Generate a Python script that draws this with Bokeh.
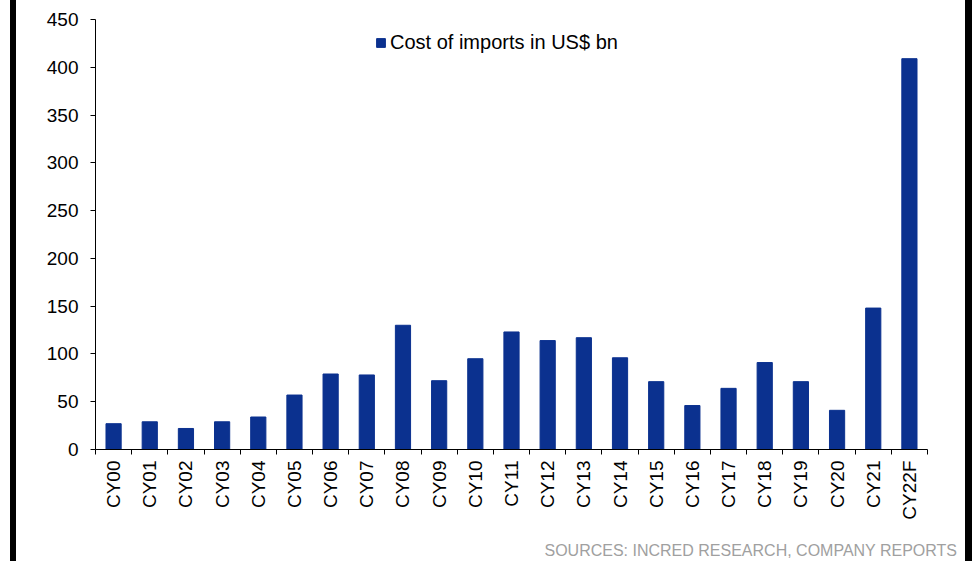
import math
from bokeh.plotting import figure
from bokeh.models import (ColumnDataSource, Range1d, FixedTicker, Legend, LegendItem,
                          Div, Spacer)
from bokeh.layouts import row, column
from bokeh.embed import file_html
from bokeh.resources import INLINE

years = ["CY00", "CY01", "CY02", "CY03", "CY04", "CY05", "CY06", "CY07", "CY08", "CY09",
         "CY10", "CY11", "CY12", "CY13", "CY14", "CY15", "CY16", "CY17", "CY18", "CY19",
         "CY20", "CY21", "CY22F"]
import_cost = [27, 29, 22, 29, 34, 57, 79, 78, 130, 72,
               95, 123, 114, 117, 96, 71, 46, 64, 91, 71,
               41, 148, 409]
y_ticks = [0, 50, 100, 150, 200, 250, 300, 350, 400, 450]
series_name = "Cost of imports in US$ bn"
source_note = "SOURCES: INCRED RESEARCH, COMPANY REPORTS"

FONT = "Liberation Sans"
BAR = "#0B318F"

positions = list(range(len(years)))
src = ColumnDataSource(dict(x=positions, y=import_cost, name=years))

p = figure(width=949, height=540, output_backend="svg", toolbar_location=None,
           x_range=Range1d(-0.5, len(years) - 0.5), y_range=Range1d(0, 450),
           min_border_left=79, min_border_right=38, min_border_top=19, min_border_bottom=91,
           margin=0)
p.outline_line_color = None
p.xgrid.visible = False
p.ygrid.visible = False
p.background_fill_color = "white"
p.border_fill_color = "white"

r = p.vbar(x="x", top="y", width=0.42, source=src, fill_color=BAR, line_color=BAR)

# y axis
p.yaxis.ticker = FixedTicker(ticks=y_ticks)
p.yaxis.axis_line_color = "black"
p.yaxis.major_tick_line_color = "black"
p.yaxis.major_tick_out = 5
p.yaxis.major_tick_in = 0
p.yaxis.minor_tick_line_color = None
p.yaxis.major_label_text_font = FONT
p.yaxis.major_label_text_font_size = "19px"
p.yaxis.major_label_text_color = "black"
p.yaxis.major_label_standoff = 12

# x axis: labels at centers, ticks at category boundaries
p.xaxis.ticker = FixedTicker(ticks=positions, minor_ticks=[i - 0.5 for i in range(len(years) + 1)])
p.xaxis.major_label_overrides = {i: n for i, n in zip(positions, years)}
p.xaxis.axis_line_color = "black"
p.xaxis.major_tick_line_color = None
p.xaxis.major_tick_out = 5
p.xaxis.major_tick_in = 0
p.xaxis.minor_tick_line_color = "black"
p.xaxis.minor_tick_out = 5
p.xaxis.minor_tick_in = 0
p.xaxis.major_label_orientation = math.pi / 2
p.xaxis.major_label_text_font = FONT
p.xaxis.major_label_text_font_size = "19px"
p.xaxis.major_label_text_color = "black"
p.xaxis.major_label_standoff = 6

legend = Legend(items=[LegendItem(label=series_name, renderers=[r])],
                location=(280, 395), orientation="horizontal",
                glyph_width=11, glyph_height=11, label_standoff=4,
                label_text_font=FONT, label_text_font_size="20px", label_text_color="black",
                border_line_color=None, background_fill_alpha=0, padding=0, margin=0,
                label_height=20)
p.add_layout(legend, "center")

note = Div(text=('<div style="display:block;width:949px;box-sizing:border-box;'
                 'text-align:right;padding-right:8px;color:#a0a0a0;'
                 'font-family:\'Liberation Sans\',Arial,sans-serif;font-size:16px;'
                 'line-height:21px;white-space:nowrap;">' + source_note + '</div>'),
           width=949, height=21, margin=0)

left_pad = Spacer(width=10, height=561, margin=0)
left_bar = Div(text="", width=6, height=561, margin=0, styles={"background-color": "black"})
right_bar = Div(text="", width=7, height=561, margin=0, styles={"background-color": "black"})

layout = row(left_pad, left_bar, column(p, note, spacing=0, margin=0), right_bar,
             spacing=0, margin=0)

open("out.html", "w").write(file_html(layout, INLINE))
